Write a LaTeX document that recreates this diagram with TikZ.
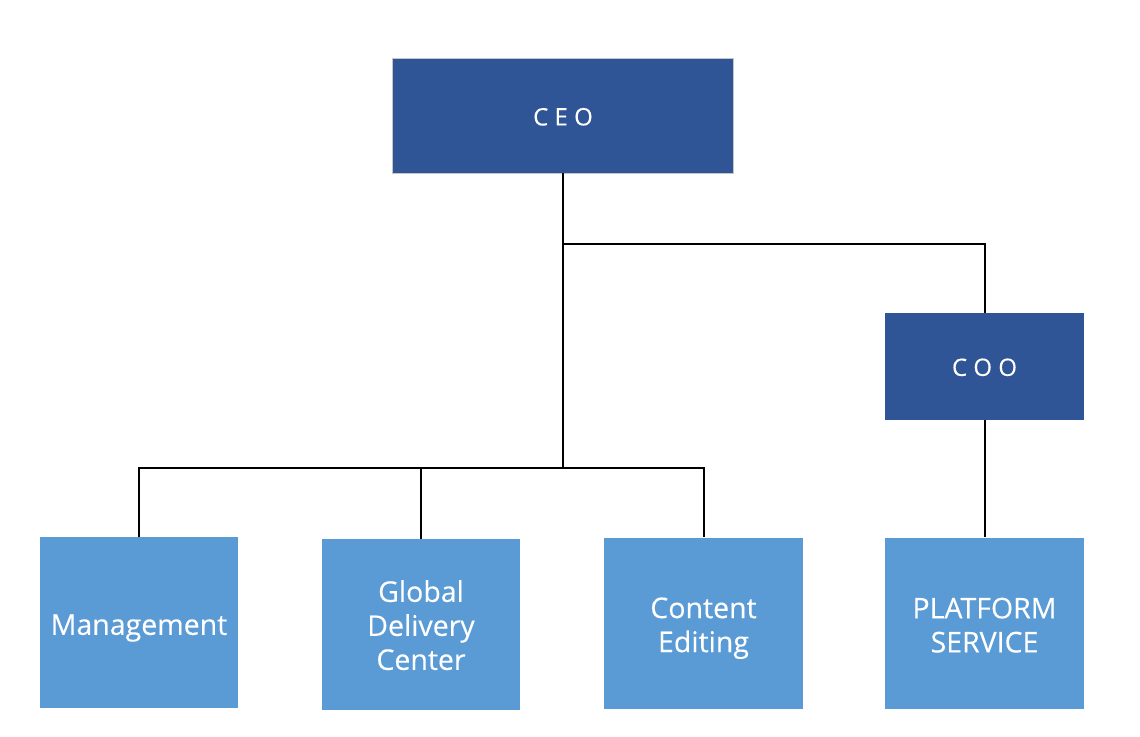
\documentclass[tikz,border=0pt]{standalone}
\usepackage{fontspec}
\setmainfont{Open Sans}
\newfontfamily\boxfont[FakeBold=0.2]{Open Sans}
\usepackage{xcolor}
\usetikzlibrary{positioning, calc}

\definecolor{headblue}{HTML}{2F5597}
\definecolor{unitblue}{HTML}{5B9BD5}

% strut that sets the height of the first text line in a box
\newcommand\unitstrut[1]{\rule{0pt}{#1}}

\tikzset{
    headbox/.style={fill=headblue, text=white, minimum width=341pt, minimum height=115pt,
        inner sep=0pt, font=\boxfont\fontsize{24}{28}\selectfont},
    unitbox/.style={fill=unitblue, text=white, minimum width=198pt, minimum height=171pt,
        inner sep=0pt, align=center, font=\boxfont\fontsize{28.5}{34}\selectfont},
    link/.style={draw=black, line width=2pt}
}

\begin{document}
\begin{tikzpicture}[x=1pt, y=-1pt]
\useasboundingbox (0,0) rectangle (1140,736);

% top level
\node[headbox, draw=gray!45, line width=0.8pt] (ceo) at (563,115.5) {\unitstrut{20pt}C E O};
\node[headbox, minimum width=199pt, minimum height=107pt] (coo) at (984.5,366.5) {\unitstrut{19pt}C O O};

% units
\node[unitbox] (mgmt) at (139,622.5) {\unitstrut{31.5pt}Management};
\node[unitbox] (gdc) at (421,624.5) {\unitstrut{23pt}Global\\Delivery\\Center};
\node[unitbox, minimum width=199pt] (edit) at (703.5,623) {\unitstrut{31pt}Content\\Editing};
\node[unitbox, minimum width=199pt] (plat) at (984.5,623) {\unitstrut{25pt}PLATFORM\\SERVICE};

% connectors
\coordinate (split) at (563,244);
\coordinate (bus) at (563,468);
\draw[link] (ceo.south) -- (bus);
\draw[link] (split) -| (coo.north);
\draw[link] (mgmt.north) |- (bus) -| (edit.north);
\draw[link] (gdc.north) -- (gdc.north |- bus);
\draw[link] (coo.south) -- (plat.north);
\end{tikzpicture}
\end{document}
